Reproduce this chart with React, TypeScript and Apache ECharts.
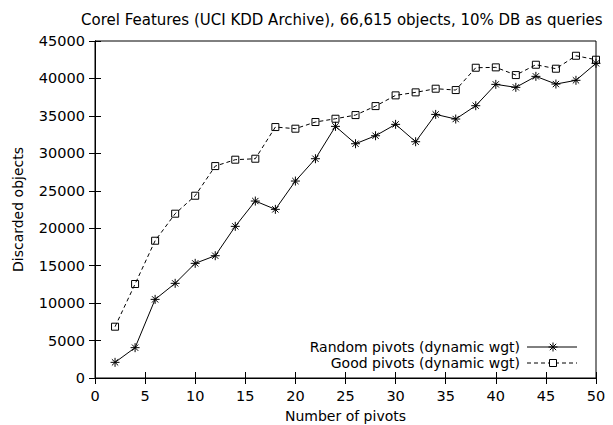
import React, { useEffect, useRef } from "react";
import * as echarts from "echarts";

const pivots = [2, 4, 6, 8, 10, 12, 14, 16, 18, 20, 22, 24, 26, 28, 30, 32, 34, 36, 38, 40, 42, 44, 46, 48, 50];
const randomPivots = [2090, 4050, 10500, 12640, 15310, 16330, 20250, 23630, 22520, 26300, 29280, 33600, 31280, 32350, 33870, 31550, 35200, 34580, 36360, 39210, 38810, 40280, 39250, 39750, 42020];
const goodPivots = [6850, 12550, 18330, 21940, 24340, 28300, 29150, 29280, 33510, 33290, 34180, 34620, 35110, 36310, 37740, 38140, 38630, 38450, 41430, 41480, 40450, 41830, 41300, 43030, 42500];
const titleText = "Corel Features (UCI KDD Archive), 66,615 objects, 10% DB as queries";
const xName = "Number of pivots";
const yName = "Discarded objects";
const seriesNames = ["Random pivots (dynamic wgt)", "Good pivots (dynamic wgt)"];

const FONT = "'DejaVu Sans', sans-serif";
const FS = 14;
const FS_TICK = 14.5;
const FS_TITLE = 15;
const STAR = "path://M0,5L10,5M5,0L5,10M1.5,1.5L8.5,8.5M8.5,1.5L1.5,8.5";
const DASH = [4, 3];

export default function App() {
  const ref = useRef<HTMLDivElement>(null);
  useEffect(() => {
    if (!ref.current) return;
    const chart = echarts.init(ref.current, null, { renderer: "svg" });
    const tick = { show: true, inside: true, length: 6, lineStyle: { color: "#000", width: 1 } };
    const lineStyleSolid = { stroke: "#000", lineWidth: 1 };
    const legendX0 = 527, legendX1 = 577, legendMid = 553, row1 = 347, row2 = 363, textRight = 520;
    const s = 4.5, d = 3.2;
    chart.setOption({
      animation: false,
      backgroundColor: "#fff",
      textStyle: { fontFamily: FONT },
      title: {
        text: titleText,
        left: 76,
        top: 7,
        textStyle: { fontFamily: FONT, fontSize: FS_TITLE, fontWeight: "normal", color: "#000" },
      },
      grid: { left: 95, right: 17, top: 41, bottom: 47, show: true, borderColor: "#000", borderWidth: 1, backgroundColor: "transparent", containLabel: false, outerBoundsMode: "none" },
      xAxis: [
        {
          type: "value",
          min: 0,
          max: 50,
          interval: 5,
          name: xName,
          nameLocation: "middle",
          nameGap: 31,
          nameTextStyle: { fontFamily: FONT, fontSize: FS, color: "#000" },
          axisLine: { show: true, lineStyle: { color: "#000" } },
          axisTick: tick,
          axisLabel: { fontFamily: FONT, fontSize: FS_TICK, color: "#000", margin: 10 },
          splitLine: { show: false },
        },
        {
          type: "value",
          position: "top",
          min: 0,
          max: 50,
          interval: 5,
          axisLine: { show: true, lineStyle: { color: "#000" } },
          axisTick: tick,
          axisLabel: { show: false },
          splitLine: { show: false },
        },
      ],
      yAxis: [
        {
          type: "value",
          min: 0,
          max: 45000,
          interval: 5000,
          name: yName,
          nameLocation: "middle",
          nameGap: 70,
          nameTextStyle: { fontFamily: FONT, fontSize: FS, color: "#000" },
          axisLine: { show: true, lineStyle: { color: "#000" } },
          axisTick: tick,
          axisLabel: { fontFamily: FONT, fontSize: FS_TICK, color: "#000", margin: 10, formatter: (v: number) => String(v) },
          splitLine: { show: false },
        },
        {
          type: "value",
          position: "right",
          min: 0,
          max: 45000,
          interval: 5000,
          axisLine: { show: true, lineStyle: { color: "#000" } },
          axisTick: tick,
          axisLabel: { show: false },
          splitLine: { show: false },
        },
      ],
      graphic: [
        { type: "text", x: textRight, y: row1, style: { text: seriesNames[0], font: `${FS}px ${FONT}`, fill: "#000", textAlign: "right", textVerticalAlign: "middle" } },
        { type: "text", x: textRight, y: row2, style: { text: seriesNames[1], font: `${FS}px ${FONT}`, fill: "#000", textAlign: "right", textVerticalAlign: "middle" } },
        { type: "line", shape: { x1: legendX0, y1: row1, x2: legendX1, y2: row1 }, style: lineStyleSolid },
        { type: "line", shape: { x1: legendMid - s, y1: row1, x2: legendMid + s, y2: row1 }, style: lineStyleSolid },
        { type: "line", shape: { x1: legendMid, y1: row1 - s, x2: legendMid, y2: row1 + s }, style: lineStyleSolid },
        { type: "line", shape: { x1: legendMid - d, y1: row1 - d, x2: legendMid + d, y2: row1 + d }, style: lineStyleSolid },
        { type: "line", shape: { x1: legendMid - d, y1: row1 + d, x2: legendMid + d, y2: row1 - d }, style: lineStyleSolid },
        { type: "line", shape: { x1: legendX0, y1: row2, x2: legendX1, y2: row2 }, style: { stroke: "#000", lineWidth: 1, lineDash: DASH } },
        { type: "rect", shape: { x: legendMid - 3.5, y: row2 - 3.5, width: 7, height: 7 }, style: { fill: "#fff", stroke: "#000", lineWidth: 1 } },
      ],
      series: [
        {
          name: seriesNames[0],
          type: "line",
          data: pivots.map((p, i) => [p, randomPivots[i]]),
          symbol: STAR,
          symbolSize: 9,
          showAllSymbol: true,
          color: "#000",
          itemStyle: { color: "#000", borderColor: "#000", borderWidth: 1 },
          lineStyle: { color: "#000", width: 1, type: "solid" },
          z: 3,
        },
        {
          name: seriesNames[1],
          type: "line",
          data: pivots.map((p, i) => [p, goodPivots[i]]),
          symbol: "rect",
          symbolSize: 7,
          showAllSymbol: true,
          color: "#000",
          itemStyle: { color: "rgba(0,0,0,0)", borderColor: "#000", borderWidth: 1 },
          lineStyle: { color: "#000", width: 1, type: DASH },
          z: 2,
        },
      ],
    });
    return () => chart.dispose();
  }, []);
  return <div ref={ref} style={{ position: "fixed", left: 0, top: 0, width: 613, height: 425 }} />;
}
